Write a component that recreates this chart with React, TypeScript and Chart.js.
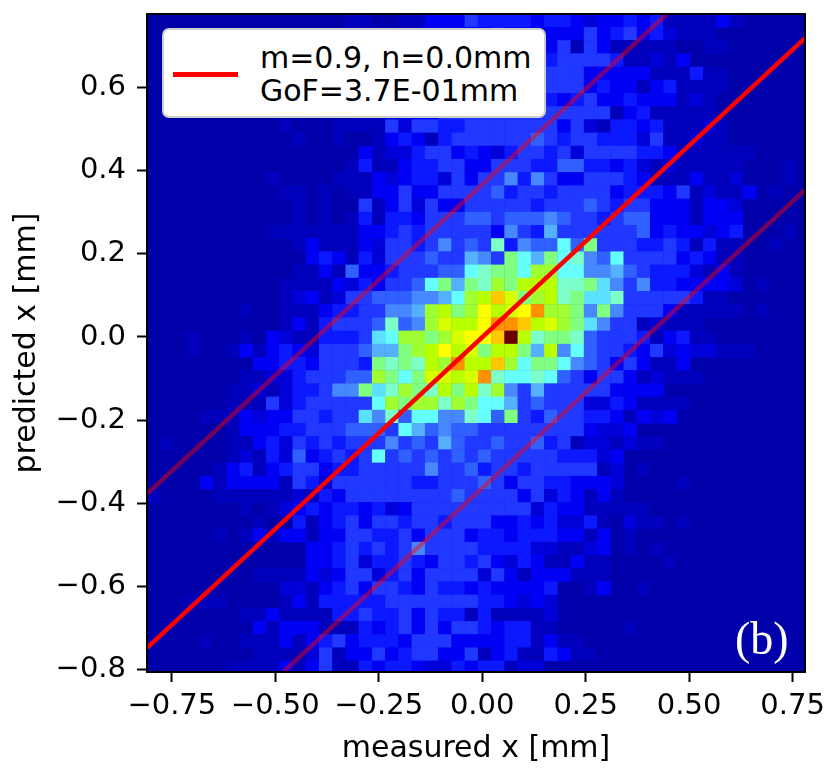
import { useEffect, useRef } from 'react';
import { Chart, registerables } from 'chart.js';

Chart.register(...registerables);

const xTicks = [-0.75, -0.5, -0.25, 0, 0.25, 0.5, 0.75];
const yTicks = [-0.8, -0.6, -0.4, -0.2, 0, 0.2, 0.4, 0.6];
const xMin = -0.81;
const xMax = 0.78;
const yMin = -0.807;
const yMax = 0.778;
const binX = 0.032;
const binY = 0.0318;

// colour steps of the histogram, low to high
const cmap = [
  '#0000aa', '#0000bc', '#0000d8', '#0000f4', '#0c18ff', '#2038ff', '#3060ff', '#4888ff', '#55b0ff', '#5ce0ff',
  '#66ffff', '#7cffc8', '#80ff80', '#a0ff30', '#b8ff00', '#d8ff00', '#ffff00', '#ffc800', '#ff9000', '#6b0000',
];

// one row per y bin, top to bottom; cells missing at the end of a row are empty
const counts = [
  [0,0,0,0,0,0,0,0,0,0,0,0,0,0,0,1,1,0,0,1,1,3,3,3,5, 4,4,4,4,3,4,4,3,2,3,3,4,3,4,1,1,1,1,3,1],
  [0,0,0,0,0,0,0,0,0,0,0,0,0,0,0,1,1,1,1,1,2,3,3,3,3, 3,4,3,3,3,3,3,3,5,3,4,5,3,4,2,1,1,1],
  [0,0,0,0,0,0,0,0,0,0,0,0,0,0,0,0,1,1,1,1,2,3,3,3,3, 3,3,3,3,4,3,5,1,5,3,1,1,1,1,1,0,0,1,1],
  [0,0,0,0,0,0,0,0,0,0,0,0,0,0,0,0,1,1,1,1,2,3,3,4,4, 4,4,4,3,4,4,5,5,5,5,4,1,1,2,1,3],
  [0,0,0,0,0,0,0,0,0,0,0,0,0,0,0,0,1,1,1,2,3,3,3,4,4, 4,4,3,4,4,5,5,5,3,3,3,3,3,1,1,1,4,1,1],
  [0,0,0,0,0,0,0,0,0,0,0,0,0,0,0,1,1,1,1,2,3,3,4,4,4, 5,4,4,5,4,5,5,5,3,4,3,3,1,3,4,1,1,1,1],
  [0,0,0,0,0,0,0,0,0,0,0,0,0,0,0,1,1,1,2,3,3,4,4,4,5, 5,5,4,4,5,4,3,4,5,3,3,4,3,3,3,1,2,1],
  [0,0,0,0,0,0,0,0,0,0,0,0,0,0,0,1,1,1,2,3,3,3,5,5,5, 5,5,5,5,5,5,5,5,5,5,1,3,4,1,1,1,1,1],
  [0,0,0,0,0,0,0,0,0,0,1,0,0,0,1,1,1,1,5,2,5,5,4,4,5, 5,5,5,5,5,5,3,5,2,1,4,4,3,4,1,1,1,2,1],
  [0,0,0,0,0,0,0,0,0,0,0,1,0,0,1,0,0,1,3,4,3,1,4,5,5, 5,5,5,5,6,5,4,5,5,4,4,4,2,5,1,1,2,1,1],
  [0,0,0,0,0,0,0,0,0,0,0,0,0,0,0,0,3,1,2,2,4,5,5,3,4, 3,2,4,5,5,4,5,2,5,5,5,5,4,4,3,1,1,1,1,1,1],
  [0,0,0,0,0,0,0,0,0,0,0,0,0,0,0,1,4,1,1,3,4,4,5,5,3, 3,5,5,5,4,4,6,6,4,4,3,4,2,1,2,1,1,1,1,1,0,0,0,1],
  [0,0,0,0,0,0,0,0,0,1,0,0,0,0,1,1,1,3,2,3,4,4,2,5,3, 5,5,7,4,7,5,3,3,5,5,5,4,3,1,1,1,3,1,1,2,0,0,0,1],
  [0,0,0,0,0,0,0,0,0,0,1,1,0,1,0,1,1,3,3,5,3,3,5,5,5, 5,6,4,5,5,4,5,5,5,5,3,4,4,4,3,5,1,2,1,1,3,0,1],
  [0,0,0,0,0,0,0,0,0,0,0,1,0,1,0,0,5,1,3,5,2,5,3,3,5, 5,5,5,5,4,5,5,5,6,5,4,5,5,3,3,3,1,3,3,2],
  [0,0,0,0,0,0,0,0,0,0,0,1,0,1,0,1,4,1,4,4,3,5,5,5,6, 6,5,6,6,6,7,6,5,5,4,5,6,6,3,3,3,1,3,3,3],
  [0,0,0,0,0,0,0,0,0,1,1,1,1,1,1,1,3,3,4,5,4,5,5,5,5, 5,3,7,5,4,8,5,5,5,5,5,5,6,3,4,3,3,2,3,4,0,0,0,1],
  [0,0,0,0,0,0,0,0,0,0,0,1,3,1,1,1,3,2,5,5,4,5,7,5,6, 5,11,4,7,6,6,10,6,12,5,5,5,4,4,5,4,1,4,1,1,0,0,1],
  [0,0,0,0,0,0,0,0,0,0,0,0,3,4,3,1,4,2,5,5,5,6,5,5,8, 7,5,12,10,8,12,10,11,7,6,10,5,5,5,5,3,4,3,1,1],
  [0,0,0,0,0,0,0,0,0,0,0,1,1,3,1,6,3,3,4,5,5,5,6,6,10, 11,12,12,10,13,13,10,10,7,7,8,6,5,4,4,4,2,1,3,1],
  [0,0,0,0,0,0,0,0,0,0,1,1,1,1,3,2,4,3,5,5,6,10,12,8,12, 11,13,12,14,14,14,11,11,12,9,7,5,7,4,4,3,3,3,3,2,0,1],
  [0,0,0,0,0,0,0,0,0,0,1,2,3,1,2,5,5,6,6,6,7,7,8,10,13, 14,17,15,12,13,14,11,12,9,9,11,5,5,5,5,5,4,1,1],
  [0,0,0,0,0,0,0,1,0,0,1,1,1,3,4,4,5,5,7,7,8,13,14,12,13, 16,14,15,16,18,13,13,12,7,12,7,5,5,5,3,1,1,1,1,1,0,1],
  [0,0,0,0,0,0,0,0,0,0,1,3,1,4,5,5,5,6,11,6,7,13,15,14,14, 16,18,18,17,14,15,13,12,9,7,5,5,1,2,1,1,1],
  [0,0,0,1,0,0,0,1,0,3,2,1,1,4,4,4,5,9,10,13,13,12,13,15,16, 16,17,19,14,11,12,12,11,6,5,5,5,4,1,3,4,1,1],
  [0,0,0,1,0,0,1,3,1,3,4,3,2,5,5,5,6,8,8,12,13,14,16,14,15, 12,14,14,12,8,14,7,10,6,5,5,4,3,5,2,3,2,2,1,1,1],
  [0,0,0,0,0,0,0,0,3,3,4,4,3,5,5,5,4,12,11,12,11,14,13,18,14, 14,17,13,10,12,12,10,7,6,5,3,5,3,1,1,3],
  [0,0,0,0,0,0,0,1,1,2,2,4,5,5,5,6,6,13,12,10,12,15,15,14,15, 18,11,10,10,11,10,6,5,3,5,5,3,1,2,1,1,1],
  [0,0,0,0,0,0,1,1,2,1,2,4,4,5,7,7,12,9,11,13,12,11,14,12,14, 11,13,7,5,8,5,5,5,5,5,3,3,3,3],
  [0,0,0,0,0,0,1,1,1,5,2,4,5,5,5,5,5,10,13,12,13,13,11,13,12, 10,10,8,5,6,5,5,5,2,2,4,3,1,1,1,1],
  [0,0,0,0,1,1,1,3,2,3,3,5,5,4,5,5,9,7,11,6,10,10,7,7,11, 10,6,12,5,4,6,5,5,4,4,3,1,3,2,3],
  [0,0,0,0,0,0,1,3,3,3,4,4,5,5,5,6,6,6,5,10,8,6,7,6,6, 5,5,5,5,5,5,5,5,3,2,2,3],
  [0,1,0,0,0,0,1,1,3,4,2,5,4,5,4,5,5,5,7,5,6,5,8,6,5, 5,6,5,5,6,4,5,1,2,2,1,2,1,1],
  [0,0,0,0,0,0,1,2,1,4,2,6,3,4,5,4,5,10,5,6,5,6,5,6,5, 6,5,5,5,5,5,4,4,4,2,3],
  [0,0,0,0,0,1,3,4,1,3,4,5,5,3,4,4,5,5,5,5,5,7,5,5,6, 4,5,5,4,5,5,5,5,5,1,2,0,1],
  [0,0,0,0,3,1,3,3,3,3,1,5,4,2,5,5,5,5,5,5,4,4,5,5,5, 6,5,3,5,5,4,4,3,3,3,2,0,0,0,0,1],
  [1,0,0,0,0,1,1,1,1,1,1,2,1,4,3,5,5,5,5,5,5,5,5,6,5, 5,5,5,3,5,2,4,3,1,3,1],
  [0,0,0,0,0,0,0,1,0,1,2,3,4,3,4,4,3,4,2,3,5,5,5,5,5, 5,5,5,5,2,4,3,3,1,1,1,1,1],
  [0,0,0,0,0,0,0,0,1,0,0,4,1,3,4,5,3,5,5,4,5,5,4,5,5, 5,3,3,4,3,4,2,2,4,1,0,2,1,1,0,1],
  [0,0,0,0,0,1,0,1,3,1,3,3,1,3,3,5,5,4,4,5,3,5,5,5,3, 4,4,3,4,4,4,3,3,1,3,0,1],
  [0,0,0,0,0,0,0,0,0,0,0,0,3,3,4,5,4,5,4,5,7,5,5,5,5, 4,4,4,4,2,2,1,1,2,3,0,1,0,1],
  [0,0,0,0,0,0,0,0,0,0,0,0,3,3,4,5,2,4,4,5,4,3,5,5,4, 5,3,2,4,3,1,1,3,1,1,0,0,0,0,1],
  [0,0,0,0,0,0,0,0,1,1,1,1,3,2,3,5,5,2,4,5,3,5,5,5,5, 2,5,3,1,3,3,3,1,1,1],
  [0,0,0,0,0,0,0,0,0,0,2,2,1,3,4,5,3,5,5,4,3,5,4,4,3, 4,3,3,3,3,4,0,0,1,3,0,0,1],
  [0,0,0,1,1,1,0,0,0,0,1,3,1,4,4,4,4,4,5,5,5,5,5,5,5, 4,4,3,2,3,2],
  [0,0,0,0,0,0,0,1,1,3,1,1,1,1,4,4,5,4,4,5,3,5,4,4,1, 4,1,1,1,1,2],
  [0,0,0,0,0,0,0,0,3,1,3,3,3,1,1,1,4,3,4,5,3,5,3,5,5, 4,3,4,4,1,1,0,0,0,0,0,1],
  [0,0,0,0,1,0,0,1,1,1,3,1,3,4,5,3,4,4,4,3,5,5,5,3,3, 3,3,4,4,1,3,1,1],
  [0,0,0,0,0,0,0,0,1,1,1,1,2,5,1,3,3,5,3,4,5,5,3,3,5, 1,3,4,1,1,4,3,1,1],
  [0,0,0,0,0,0,1,1,1,1,3,1,3,5,1,1,4,3,4,4,3,2,2,4,3, 4,4,1,2,2],
];

const lineX = [-0.81, 0.78];
const fitY = [-0.749, 0.72];
const upperY = [-0.378, 1.085];
const lowerY = [-1.11, 0.354];

const toPoints = (ys: number[]) => ys.map((y, i) => ({ x: lineX[i], y }));
const minusSign = (s: string) => s.replace('-', '\u2212');
const FONT = '"DejaVu Sans"';

// bins drawn through the axes as square points; empty bins show the plot background
const cells = counts.flatMap((row, r) =>
  row.flatMap((v, c) => (v > 0 ? [{ x: xMin + (c + 0.5) * binX, y: yMax - (r + 0.5) * binY, v }] : [])),
);

const framePlugin = {
  id: 'frame',
  beforeDatasetsDraw(chart: Chart) {
    const { ctx, chartArea: a } = chart;
    ctx.save();
    ctx.fillStyle = cmap[0];
    ctx.fillRect(a.left, a.top, a.right - a.left, a.bottom - a.top);
    ctx.restore();
  },
  afterDatasetsDraw(chart: Chart) {
    const { ctx, chartArea: a } = chart;
    ctx.save();
    ctx.strokeStyle = '#000';
    ctx.lineWidth = 2;
    ctx.strokeRect(a.left, a.top, a.right - a.left, a.bottom - a.top);
    ctx.restore();
  },
};

export default function App() {
  const canvasRef = useRef<HTMLCanvasElement>(null);

  useEffect(() => {
    if (!canvasRef.current) return;
    const band = { borderColor: 'rgba(255,0,0,0.45)', borderWidth: 4.5, showLine: true, pointRadius: 0, clip: 0, order: 1 };
    const chart = new Chart(canvasRef.current, {
      type: 'scatter',
      data: {
        datasets: [
          { label: 'm=0.9, n=0.0mm', data: toPoints(fitY), borderColor: '#ff0000', borderWidth: 4.5, showLine: true, pointRadius: 0, clip: 0, order: 0 },
          { label: 'upper', data: toPoints(upperY), ...band },
          { label: 'lower', data: toPoints(lowerY), ...band },
          {
            label: 'counts',
            data: cells,
            order: 2,
            clip: 0,
            pointStyle: 'rect',
            borderWidth: 0,
            pointRadius: (c: any) => {
              const sx = c.chart.scales.x;
              return (sx.getPixelForValue(binX) - sx.getPixelForValue(0) + 0.4) / Math.SQRT2;
            },
            backgroundColor: (c: any) => cmap[c.raw ? c.raw.v : 0],
          } as any,
        ],
      },
      options: {
        responsive: false,
        animation: false,
        events: [],
        layout: { padding: { left: 0, right: 27, top: 14, bottom: 0 } },
        plugins: { legend: { display: false }, tooltip: { enabled: false } },
        scales: {
          x: {
            type: 'linear',
            min: xMin,
            max: xMax,
            afterBuildTicks: (s: any) => { s.ticks = xTicks.map((value) => ({ value })); },
            afterFit: (s: any) => { s.height = 96; s.paddingLeft = 0; s.paddingRight = 0; },
            grid: { drawOnChartArea: false, tickLength: 10, tickWidth: 2, tickColor: '#000' },
            border: { display: false },
            ticks: {
              color: '#000',
              padding: 7,
              maxRotation: 0,
              autoSkip: false,
              font: { family: FONT, size: 29 },
              callback: (v) => minusSign(Number(v).toFixed(2)),
            },
            title: { display: true, text: 'measured x [mm]', color: '#000', padding: { top: 0, bottom: 1 }, font: { family: FONT, size: 30 } },
          },
          y: {
            type: 'linear',
            min: yMin,
            max: yMax,
            afterBuildTicks: (s: any) => { s.ticks = yTicks.map((value) => ({ value })); },
            afterFit: (s: any) => { s.width = 147; s.paddingTop = 0; s.paddingBottom = 0; },
            grid: { drawOnChartArea: false, tickLength: 10, tickWidth: 2, tickColor: '#000' },
            border: { display: false },
            ticks: {
              color: '#000',
              padding: 11,
              autoSkip: false,
              font: { family: FONT, size: 29 },
              callback: (v) => minusSign(Number(v).toFixed(1)),
            },
            title: { display: true, text: 'predicted x [mm]', color: '#000', padding: { top: 9, bottom: 0 }, font: { family: FONT, size: 30 } },
          },
        },
      },
      plugins: [framePlugin],
    });
    return () => chart.destroy();
  }, []);

  return (
    <div style={{ position: 'absolute', left: 0, top: 0, width: 832, height: 768, background: '#fff' }}>
      <canvas ref={canvasRef} width={832} height={768} style={{ display: 'block' }} />
      <div
        style={{
          position: 'absolute', left: 162, top: 28, width: 380, height: 86, boxSizing: 'content-box',
          background: '#fff', border: '2px solid #cccccc', borderRadius: 7,
          fontFamily: FONT, fontSize: 30, lineHeight: '33px', color: '#000',
        }}
      >
        <div style={{ position: 'absolute', left: 9, top: 42, width: 65, height: 4.5, background: '#ff0000' }} />
        <div style={{ position: 'absolute', left: 96, top: 11, whiteSpace: 'nowrap' }}>m=0.9, n=0.0mm</div>
        <div style={{ position: 'absolute', left: 96, top: 44, whiteSpace: 'nowrap' }}>GoF=3.7E-01mm</div>
      </div>
      <div style={{ position: 'absolute', left: 735, top: 614, fontFamily: '"Liberation Serif"', fontSize: 46, lineHeight: '50px', color: '#fff' }}>(b)</div>
    </div>
  );
}
